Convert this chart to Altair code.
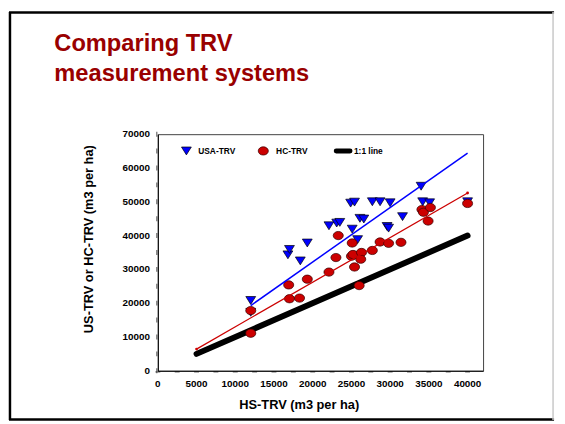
import altair as alt
import pandas as pd

# ---- data ----
usa_x = [12000, 12000, 16800, 17000, 18400, 19300, 22100, 23100, 23500, 24900, 25400, 25100, 25800,
         26100, 26600, 27700, 28700, 30000, 29600, 29800, 31600, 34000, 34200, 35100, 40000]
usa_y = [20800, 17300, 34300, 35900, 32500, 37800, 42900, 43700, 43900, 49600, 49900, 41900, 38800,
         45100, 44900, 50000, 50000, 49700, 42700, 42200, 45600, 54600, 50000, 49700, 50000]

hc_x = [12000, 12000, 16900, 17000, 18300, 19300, 22100, 23000, 23300, 25000, 25200, 25100, 26300,
        26200, 25400, 26000, 27700, 28700, 29800, 31400, 34100, 34300, 35200, 34900, 40000]
hc_y = [11100, 17800, 25400, 21300, 21500, 27100, 29200, 33500, 40000, 33900, 34400, 37800, 35000,
        33000, 30700, 25200, 35600, 38100, 37700, 38000, 47700, 46900, 48300, 44300, 49500]

usa_fit_x = [12000, 40000]
usa_fit_y = [19300, 64400]
hc_fit_x = [5000, 40000]
hc_fit_y = [6400, 52600]
one_x = [5000, 40000]
one_y = [5000, 40000]

x_labels = list(range(0, 40001, 5000))
y_labels = list(range(0, 70001, 10000))
x_ticks = list(range(0, 40001, 2500))
y_ticks = list(range(0, 70001, 5000))

series_names = ["USA-TRV", "HC-TRV", "1:1 line"]
title_lines = ["Comparing TRV", "measurement systems"]
x_title = "HS-TRV (m3 per ha)"
y_title = "US-TRV or HC-TRV (m3 per ha)"

FONT = "Liberation Sans"
BLUE = "#0000ff"
RED = "#cc0000"
TITLE_RED = "#990000"

usa = pd.DataFrame({"x": usa_x, "y": usa_y})
hc = pd.DataFrame({"x": hc_x, "y": hc_y})
usa_fit = pd.DataFrame({"x": usa_fit_x, "y": usa_fit_y})
hc_fit = pd.DataFrame({"x": hc_fit_x, "y": hc_fit_y})
one = pd.DataFrame({"x": one_x, "y": one_y})
xt = pd.DataFrame({"x": x_ticks})
yt = pd.DataFrame({"y": y_ticks})
xl = pd.DataFrame({"x": x_labels, "t": [str(v) for v in x_labels]})
yl = pd.DataFrame({"y": y_labels, "t": [str(v) for v in y_labels]})

xscale = alt.Scale(domain=[0, 42000], nice=False, zero=True)
yscale = alt.Scale(domain=[0, 70000], nice=False, zero=True)

xaxis = alt.Axis(values=x_labels, labels=False, ticks=False, tickSize=0,
                 title=x_title, titleX=143, titleY=28, titleBaseline="top",
                 titleAlign="center", grid=False)
yaxis = alt.Axis(values=y_labels, labels=False, ticks=False, tickSize=0,
                 title=y_title, titleX=-70, titleY=106, titleAngle=270,
                 titleAlign="center", titleBaseline="middle", grid=False)

TRI = "M-1,-0.8L1,-0.8L0,0.8Z"
ELL = "M-1,0A1,0.82 0 1,0 1,0A1,0.82 0 1,0 -1,0Z"

one_line = alt.Chart(one).mark_line(color="black", strokeWidth=6, strokeCap="round").encode(
    x=alt.X("x:Q", scale=xscale, axis=xaxis),
    y=alt.Y("y:Q", scale=yscale, axis=yaxis),
)

# axis tick marks crossing the axis line
x_tick_marks = alt.Chart(xt).mark_tick(orient="horizontal", color="black", size=5, thickness=1).encode(
    x="x:Q", y=alt.value(241.2))
y_tick_marks = alt.Chart(yt).mark_tick(orient="vertical", color="black", size=5, thickness=1).encode(
    y="y:Q", x=alt.value(-1))

# axis labels
x_label_marks = alt.Chart(xl).mark_text(align="center", baseline="middle", font=FONT, fontSize=10,
                                        fontWeight="bold", color="black").encode(
    x="x:Q", y=alt.value(253), text="t:N")
y_label_marks = alt.Chart(yl).mark_text(align="right", baseline="middle", font=FONT, fontSize=10,
                                        fontWeight="bold", color="black").encode(
    y="y:Q", x=alt.value(-8), text="t:N")

usa_pts = alt.Chart(usa).mark_point(shape=TRI, size=100, filled=True, fill=BLUE,
                                    stroke="black", strokeWidth=0.7, opacity=1).encode(
    x="x:Q", y="y:Q")

hc_pts = alt.Chart(hc).mark_point(shape=ELL, size=105, filled=True, fill=RED,
                                  stroke="#330000", strokeWidth=0.7, opacity=1).encode(
    x="x:Q", y="y:Q")

usa_line = alt.Chart(usa_fit).mark_line(color=BLUE, strokeWidth=1.5).encode(x="x:Q", y="y:Q")
hc_line = alt.Chart(hc_fit).mark_line(
    color=RED, strokeWidth=1.3,
    point=alt.OverlayMarkDef(size=8, color=RED, filled=True)).encode(x="x:Q", y="y:Q")

one_row = alt.Data(values=[{"a": 1}])

# legend (drawn inside plot, top-left)
leg_tri = alt.Chart(one_row).mark_point(shape=TRI, size=100, filled=True, fill=BLUE,
                                        stroke="black", strokeWidth=0.7, opacity=1).encode(
    x=alt.value(29), y=alt.value(17))
leg_ell = alt.Chart(one_row).mark_point(shape=ELL, size=105, filled=True, fill=RED,
                                        stroke="#330000", strokeWidth=0.7, opacity=1).encode(
    x=alt.value(107), y=alt.value(17))
leg_line = alt.Chart(one_row).mark_rule(color="black", strokeWidth=5, strokeCap="round").encode(
    x=alt.value(181), x2=alt.value(195), y=alt.value(17), y2=alt.value(17))


def leg_text(label, xpos):
    return alt.Chart(one_row).mark_text(align="left", baseline="middle", font=FONT,
                                        fontSize=8.5, fontWeight="bold", color="black").encode(
        x=alt.value(xpos), y=alt.value(17.5), text=alt.value(label))


leg_t1 = leg_text(series_names[0], 41)
leg_t2 = leg_text(series_names[1], 120)
leg_t3 = leg_text(series_names[2], 199)


def title_text(label, ypos):
    return alt.Chart(one_row).mark_text(align="left", baseline="alphabetic", font=FONT,
                                        fontSize=24, fontWeight="bold", color=TITLE_RED).encode(
        x=alt.value(-105), y=alt.value(ypos), text=alt.value(label))


t1 = title_text(title_lines[0], -84)
t2 = title_text(title_lines[1], -54)

# slide frame
frame_left = alt.Chart(one_row).mark_rule(color="black", strokeWidth=2.5).encode(
    x=alt.value(-150), x2=alt.value(-150), y=alt.value(-124), y2=alt.value(290))
frame_top = alt.Chart(one_row).mark_rule(color="black", strokeWidth=2.5).encode(
    x=alt.value(-151), x2=alt.value(402), y=alt.value(-123.5), y2=alt.value(-123.5))
frame_bottom = alt.Chart(one_row).mark_rule(color="black", strokeWidth=2.5).encode(
    x=alt.value(-151), x2=alt.value(402), y=alt.value(289.5), y2=alt.value(289.5))
frame_right = alt.Chart(one_row).mark_rule(color="#c8c8c8", strokeWidth=1.5).encode(
    x=alt.value(401), x2=alt.value(401), y=alt.value(-124), y2=alt.value(290))

chart = alt.layer(
    one_line, x_tick_marks, y_tick_marks, x_label_marks, y_label_marks,
    usa_pts, hc_pts, usa_line, hc_line,
    leg_tri, leg_ell, leg_line, leg_t1, leg_t2, leg_t3,
    t1, t2, frame_left, frame_top, frame_bottom, frame_right,
).properties(
    width=330, height=240,
    autosize=alt.AutoSizeParams(type="none"),
    padding={"left": 152, "top": 125, "right": 75, "bottom": 51},
    background="white",
).configure_view(
    stroke="#404040", strokeWidth=1,
).configure_axis(
    domainColor="black", labelColor="black", titleColor="black",
    labelFont=FONT, titleFont=FONT, labelFontSize=10, labelFontWeight="bold",
    titleFontSize=13, titleFontWeight="bold",
)

chart.save("out.html", embed_options={"renderer": "svg", "actions": False})
